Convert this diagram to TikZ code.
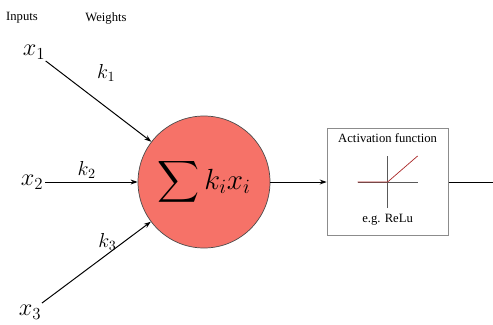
\documentclass[tikz,border=0pt]{standalone}
\usepackage{amsmath}
\usepackage{fontspec}
\setmainfont{Liberation Serif}
\usepackage{tikz}
\usetikzlibrary{arrows.meta,positioning}

\definecolor{neuron}{RGB}{246,114,104}
\definecolor{relu}{RGB}{170,40,40}

\begin{document}
\begin{tikzpicture}[->, >={Stealth[length=5pt,width=3.5pt]}, line width=0.7pt,
  every node/.style={inner sep=1pt},
  input/.style={font=\LARGE},
  weight/.style={font=\Large},
  caption/.style={font=\small}]
\path[use as bounding box] (0,0) rectangle (12.325,8.1);
\node[caption] (inlab) at (0.55,7.65) {Inputs};
\node[caption] (wlab) at (2.65,7.65) {Weights};
\node[input] (x1) at (0.85,6.8) {$x_1$};
\node[input] (x2) at (0.8,3.55) {$x_2$};
\node[input] (x3) at (0.75,0.3) {$x_3$};
\node[circle, draw=black!70, line width=0.5pt, fill=neuron, minimum size=3.3cm, font=\huge] (sum) at (5.1,3.55) {$\displaystyle\sum k_i x_i$};
\node[draw=black!45, line width=0.6pt, minimum width=3.025cm, minimum height=2.675cm] (act) at (9.69,3.55) {};
\node[caption, below=0.08cm of act.north] (acttitle) {Activation function};
\node[caption, above=0.22cm of act.south] (actex) {e.g. ReLu};
\coordinate (out) at (12.325,3.55);
\draw (x1) -- node[weight, pos=0.5, above right=0.45cm and -0.08cm] {$k_1$} (sum);
\draw (x2) -- node[weight, pos=0.45, above=1pt] {$k_2$} (sum);
\draw (x3) -- node[weight, pos=0.52, above right=0.2cm and -0.05cm] {$k_3$} (sum);
\draw (sum) -- (act);
\draw[-] (act) -- (out);
% relu sketch
\begin{scope}[shift={(act.center)}, -, line width=0.5pt]
\draw[black!65] (-0.75,0) -- (0.75,0);
\draw[black!65] (0,-0.65) -- (0,0.65);
\draw[relu] (-0.75,0) -- (0,0) -- (0.75,0.65);
\end{scope}
\end{tikzpicture}
\end{document}
